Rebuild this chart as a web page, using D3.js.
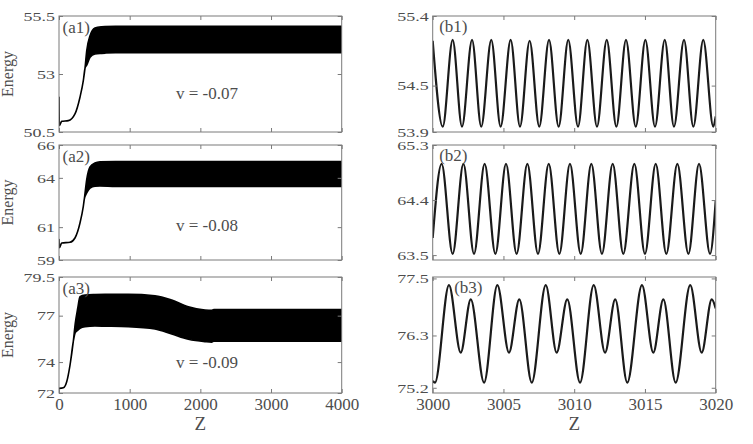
<!DOCTYPE html>
<html>
<head>
<meta charset="utf-8">
<script src="https://cdn.jsdelivr.net/npm/d3@7"></script>
<style>
  body { margin: 0; background: #fff; }
  svg { display: block; font-family: "Liberation Serif", "Times New Roman", serif; }
</style>
</head>
<body>
<div id="chart"></div>
<script>
// ---- data ----
// left column: envelope of the fast oscillation (upper / lower), z = 0..4000
const a1Z  = [0, 5, 38, 132, 226, 297, 344, 368, 392, 439, 509, 604, 651, 800, 4000];
const a1Up = [52.0, 50.78, 50.96, 50.99, 51.28, 52.0, 52.71, 53.25, 54.0, 54.65, 54.98, 55.04, 55.05, 55.06, 55.06];
const a1Lo = [52.0, 50.78, 50.96, 50.99, 51.28, 52.0, 52.71, 53.25, 53.38, 53.72, 53.86, 53.89, 53.9, 53.92, 53.92];

const a2Z  = [0, 5, 38, 156, 226, 297, 344, 358, 392, 439, 509, 580, 800, 4000];
const a2Up = [60.24, 59.75, 60.03, 60.08, 60.34, 61.25, 62.27, 62.7, 63.89, 64.66, 64.9, 64.97, 65.0, 65.0];
const a2Lo = [60.24, 59.75, 60.03, 60.08, 60.34, 61.25, 62.27, 62.7, 63.08, 63.38, 63.49, 63.5, 63.48, 63.48];

const a3Z  = [0, 61, 109, 156, 202, 230, 265, 297, 368, 509, 651, 981, 1358, 1595, 1830, 2066, 2160, 2190, 4000];
const a3Up = [72.3, 72.34, 72.73, 73.81, 75.32, 76.5, 77.48, 78.23, 78.34, 78.37, 78.38, 78.38, 78.29, 78.01, 77.58, 77.37, 77.34, 77.4, 77.4];
const a3Lo = [72.3, 72.34, 72.73, 73.81, 75.32, 75.9, 76.05, 76.18, 76.29, 76.33, 76.32, 76.29, 76.14, 75.81, 75.47, 75.32, 75.29, 75.35, 75.35];

// right column: zoom on z = 3000..3020 (extrema of the curve)
const b1Z = [3000, 3000.71, 3001.41, 3002.07, 3002.78, 3003.43, 3004.14, 3004.8, 3005.51, 3006.17, 3006.85,
             3007.53, 3008.22, 3008.9, 3009.58, 3010.27, 3010.93, 3011.61, 3012.3, 3012.98, 3013.66,
             3014.35, 3015.03, 3015.71, 3016.4, 3017.05, 3017.76, 3018.42, 3019.12, 3019.83, 3020];
const b1E = [55.08, 53.97, 55.09, 53.97, 55.09, 53.97, 55.09, 53.97, 55.09, 53.97, 55.08,
             53.97, 55.09, 53.97, 55.09, 53.97, 55.09, 53.97, 55.09, 53.97, 55.09,
             53.97, 55.09, 53.97, 55.09, 53.97, 55.09, 53.97, 55.09, 53.97, 54.1];

const b2Z = [3000, 3000.63, 3001.41, 3002.17, 3002.92, 3003.67, 3004.43, 3005.18, 3005.93, 3006.69, 3007.44,
             3008.2, 3008.95, 3009.7, 3010.46, 3011.21, 3011.96, 3012.72, 3013.47, 3014.25, 3015.0,
             3015.76, 3016.51, 3017.29, 3018.07, 3018.82, 3019.6, 3020];
const b2E = [63.78, 64.99, 63.52, 64.99, 63.52, 64.99, 63.52, 64.99, 63.52, 64.99, 63.52,
             64.99, 63.52, 64.99, 63.52, 64.99, 63.52, 64.99, 63.52, 64.99, 63.52,
             64.99, 63.52, 64.99, 63.52, 64.99, 63.52, 64.39];

const b3Z = [3000, 3000.16, 3001.15, 3001.98, 3002.69, 3003.63, 3004.57, 3005.39, 3006.12, 3007.0, 3007.99,
             3008.76, 3009.51, 3010.41, 3011.38, 3012.18, 3012.9, 3013.75, 3014.79, 3015.59, 3016.3,
             3017.17, 3018.2, 3019.01, 3019.72, 3020];
const b3E = [75.34, 75.31, 77.36, 75.94, 77.06, 75.31, 77.36, 75.94, 77.06, 75.31, 77.36,
             75.94, 77.06, 75.31, 77.36, 75.94, 77.06, 75.31, 77.36, 75.94, 77.06,
             75.31, 77.36, 75.94, 77.06, 76.87];

const leftXTicks  = [0, 1000, 2000, 3000, 4000];
const rightXTicks = [3000, 3005, 3010, 3015, 3020];

const a1Ticks = [50.5, 53, 55.5];
const a2Ticks = [59, 61, 64, 66];
const a3Ticks = [72, 74, 77, 79.5];
const b1Ticks = [53.9, 54.5, 55.4];
const b2Ticks = [63.5, 64.4, 65.3];
const b3Ticks = [75.2, 76.3, 77.5];

// axis ranges (b2, b3 extend a little past their end ticks)
const a1Range = [50.5, 55.5];
const a2Range = [59, 66];
const a3Range = [72, 79.5];
const b1Range = [53.9, 55.4];
const b2Range = [63.42, 65.3];
const b3Range = [75.09, 77.53];

const tags = ['(a1)', '(a2)', '(a3)', '(b1)', '(b2)', '(b3)'];
const vLabels = ['v = -0.07', 'v = -0.08', 'v = -0.09'];

// ---- layout ----
const width = 753, height = 444;
const colX = [[59, 341.7], [432.7, 715.7]];
const rowY = [[16, 132], [145, 260], [277, 393]];
const vLabelY = [99, 231, 368];
const rightTagDx = [6.5, 6.5, 21.5];
const textColor = '#4d4d4d';
const frameColor = '#7a7a7a';

const svg = d3.select('#chart').append('svg')
  .attr('width', width)
  .attr('height', height);

const leftPanels = [
  { z: a1Z, up: a1Up, lo: a1Lo, ticks: a1Ticks, range: a1Range },
  { z: a2Z, up: a2Up, lo: a2Lo, ticks: a2Ticks, range: a2Range },
  { z: a3Z, up: a3Up, lo: a3Lo, ticks: a3Ticks, range: a3Range }
];
const rightPanels = [
  { z: b1Z, e: b1E, ticks: b1Ticks, range: b1Range },
  { z: b2Z, e: b2E, ticks: b2Ticks, range: b2Range },
  { z: b3Z, e: b3E, ticks: b3Ticks, range: b3Range }
];

function styleAxis(g, showLabels, kind) {
  g.select('.domain').remove();
  g.selectAll('.tick line').attr('stroke', frameColor).attr('stroke-width', 1);
  if (!showLabels) {
    g.selectAll('.tick text').remove();
    return;
  }
  g.selectAll('.tick text')
    .attr('fill', textColor)
    .attr('font-family', '"Liberation Serif", serif');
  if (kind === 'y') {
    g.selectAll('.tick text')
      .attr('font-size', 18)
      .attr('transform', 'scale(1,0.74)');
  } else {
    g.selectAll('.tick text').attr('font-size', 17);
  }
}

function drawFrame(col, row, xDomain, yDomain, yTicks, xTicks, showX, idx) {
  const [x0, x1] = colX[col];
  const [y0, y1] = rowY[row];
  const x = d3.scaleLinear().domain(xDomain).range([x0, x1]);
  const y = d3.scaleLinear().domain(yDomain).range([y1, y0]);

  svg.append('clipPath').attr('id', 'clip' + idx)
    .append('rect')
    .attr('x', x0).attr('y', y0)
    .attr('width', x1 - x0).attr('height', y1 - y0);

  const g = svg.append('g').attr('class', 'panel');
  const plot = g.append('g').attr('clip-path', `url(#clip${idx})`);

  g.append('rect')
    .attr('x', x0).attr('y', y0)
    .attr('width', x1 - x0).attr('height', y1 - y0)
    .attr('fill', 'none')
    .attr('stroke', frameColor)
    .attr('stroke-width', 1);

  g.append('g').attr('transform', `translate(0,${y1})`)
    .call(d3.axisBottom(x).tickValues(xTicks).tickSizeInner(-4).tickSizeOuter(0).tickPadding(5).tickFormat(d => String(d)))
    .call(a => styleAxis(a, showX, 'x'));
  g.append('g').attr('transform', `translate(0,${y0})`)
    .call(d3.axisTop(x).tickValues(xTicks).tickSizeInner(-4).tickSizeOuter(0))
    .call(a => styleAxis(a, false));
  g.append('g').attr('transform', `translate(${x0},0)`)
    .call(d3.axisLeft(y).tickValues(yTicks).tickSizeInner(-4).tickSizeOuter(0).tickPadding(4).tickFormat(d => String(d)))
    .call(a => styleAxis(a, true, 'y'));
  g.append('g').attr('transform', `translate(${x1},0)`)
    .call(d3.axisRight(y).tickValues(yTicks).tickSizeInner(-4).tickSizeOuter(0))
    .call(a => styleAxis(a, false));

  return { x, y, plot, g, x0, x1, y0, y1 };
}

// left column: filled oscillation envelope
leftPanels.forEach((p, i) => {
  const f = drawFrame(0, i, [0, 4000], p.range, p.ticks, leftXTicks, i === 2, 'a' + i);
  const rows = p.z.map((z, k) => ({ z, up: p.up[k], lo: p.lo[k] }));

  const area = d3.area()
    .curve(d3.curveMonotoneX)
    .x(d => f.x(d.z))
    .y0(d => f.y(d.lo))
    .y1(d => f.y(d.up));

  f.plot.append('path')
    .datum(rows)
    .attr('d', area)
    .attr('fill', '#000')
    .attr('stroke', '#000')
    .attr('stroke-width', 1.6)
    .attr('stroke-linejoin', 'round');

  f.g.append('text')
    .attr('x', f.x0 + 3.5).attr('y', f.y0 + 17)
    .attr('font-size', 17).attr('fill', textColor)
    .text(tags[i]);

  f.g.append('text')
    .attr('x', 207).attr('y', vLabelY[i])
    .attr('text-anchor', 'middle')
    .attr('font-size', 17).attr('fill', textColor)
    .text(vLabels[i]);

  svg.append('text')
    .attr('transform', `translate(13,${(f.y0 + f.y1) / 2}) rotate(-90)`)
    .attr('text-anchor', 'middle')
    .attr('font-size', 16).attr('fill', textColor)
    .text('Energy');
});

// right column: single curve
rightPanels.forEach((p, i) => {
  const f = drawFrame(1, i, [3000, 3020], p.range, p.ticks, rightXTicks, i === 2, 'b' + i);
  const rows = p.z.map((z, k) => ({ z, e: p.e[k] }));

  const line = d3.line()
    .curve(d3.curveMonotoneX)
    .x(d => f.x(d.z))
    .y(d => f.y(d.e));

  f.plot.append('path')
    .datum(rows)
    .attr('d', line)
    .attr('fill', 'none')
    .attr('stroke', '#1a1a1a')
    .attr('stroke-width', 2.2)
    .attr('stroke-linejoin', 'round');

  f.g.append('text')
    .attr('x', f.x0 + rightTagDx[i]).attr('y', f.y0 + 16)
    .attr('font-size', 17).attr('fill', textColor)
    .text(tags[3 + i]);
});

// x-axis titles
[0, 1].forEach(c => {
  svg.append('text')
    .attr('x', (colX[c][0] + colX[c][1]) / 2)
    .attr('y', 430)
    .attr('text-anchor', 'middle')
    .attr('font-size', 19).attr('fill', textColor)
    .text('Z');
});
</script>
</body>
</html>
